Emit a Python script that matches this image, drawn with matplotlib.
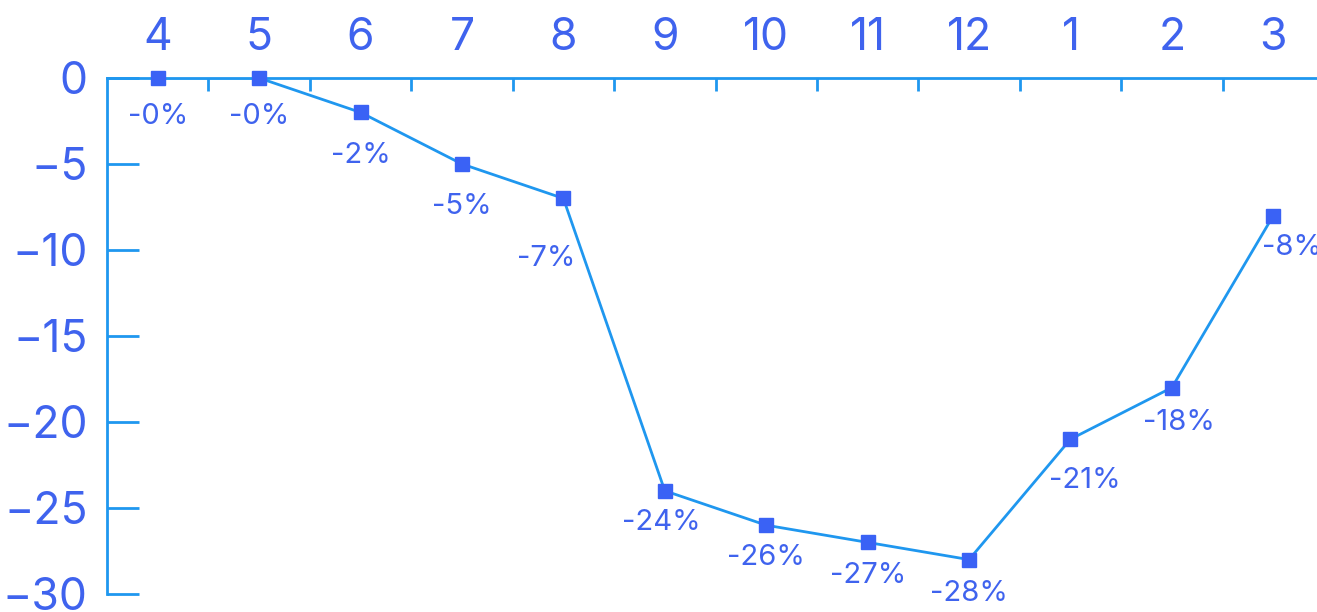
import matplotlib.pyplot as plt
import numpy as np

months = ["4", "5", "6", "7", "8", "9", "10", "11", "12", "1", "2", "3"]
values = [0, 0, -2, -5, -7, -24, -26, -27, -28, -21, -18, -8]
labels = ["-0%", "-0%", "-2%", "-5%", "-7%", "-24%", "-26%", "-27%", "-28%", "-21%", "-18%", "-8%"]
yticks = [0, -5, -10, -15, -20, -25, -30]

# label nudges in pixels (dx, dy below the marker)
label_shift = [(0, 35), (0, 35), (0, 40), (0, 39), (-17, 57), (-3, 29),
               (0, 29), (0, 30), (0, 31), (14, 38), (7, 32), (19, 29)]

line_color = "#1f97ef"
mark_color = "#3a62f5"
text_color = "#3f63ee"

plt.rcParams['font.family'] = ['Inter', 'DejaVu Sans']

fig = plt.figure(figsize=(13.17, 6.12), dpi=100)
ax = fig.add_axes([107 / 1317, 18 / 612, 1217 / 1317, 516 / 612])

x = np.arange(len(months))
ax.plot(x, values, color=line_color, linewidth=2, zorder=2)
ax.plot(x, values, linestyle="none", marker="s", markersize=10.5,
        color=mark_color, zorder=3, clip_on=False)

for i, (v, t) in enumerate(zip(values, labels)):
    dx, dy = label_shift[i]
    ax.annotate(t, (i, v), xytext=(dx * 0.72, -dy * 0.72), textcoords="offset points",
                ha="center", va="center_baseline", fontsize=21, color=text_color,
                annotation_clip=False)

ax.set_xlim(-0.5, len(months) - 0.5)
ax.set_ylim(-30, 0)

ax.xaxis.tick_top()
ax.set_xticks(x)
ax.set_xticklabels(months)
ax.set_xticks(np.arange(0.5, len(months) - 0.5, 1), minor=True)
ax.tick_params(axis="x", which="major", length=0, pad=14, labelsize=32,
               labelcolor=text_color)
ax.tick_params(axis="x", which="minor", direction="in", length=9, width=2,
               color=line_color)

ax.set_yticks(yticks)
ax.set_yticklabels([str(t).replace("-", "\u2212") for t in yticks])
ax.tick_params(axis="y", direction="in", length=23, width=2, color=line_color,
               pad=14, labelsize=32, labelcolor=text_color)

for side in ["right", "bottom"]:
    ax.spines[side].set_visible(False)
for side in ["left", "top"]:
    ax.spines[side].set_color(line_color)
    ax.spines[side].set_linewidth(2)

fig.savefig("out.png", dpi=100)
